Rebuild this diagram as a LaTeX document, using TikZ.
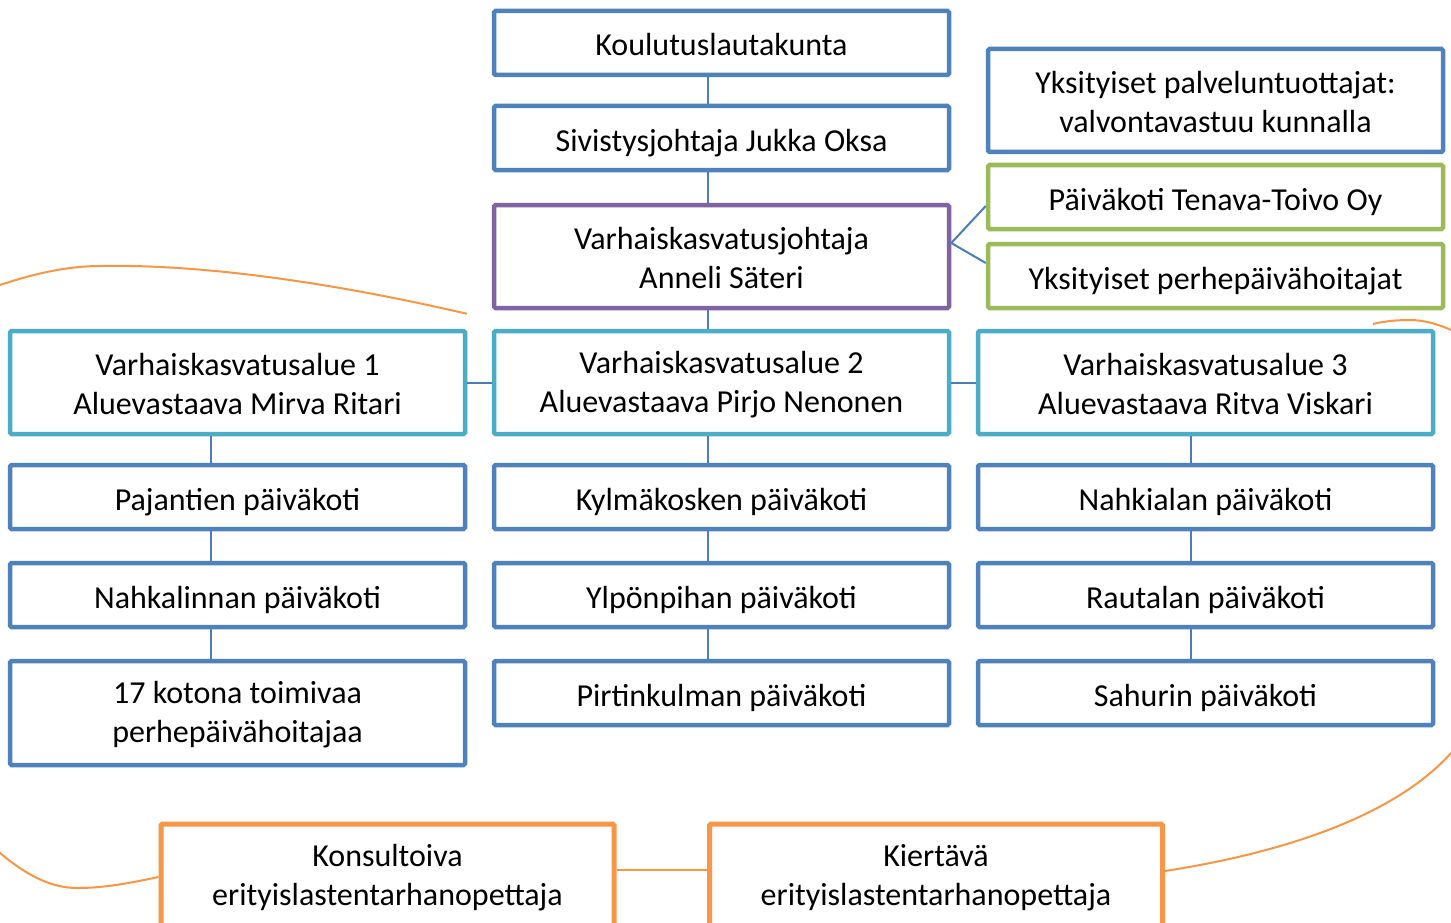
\documentclass[tikz,border=0pt]{standalone}
\usepackage{fontspec}
\setmainfont{Carlito}
\definecolor{boxblue}{HTML}{4F81BD}
\definecolor{lineblue}{HTML}{4A7EBB}
\definecolor{boxpurple}{HTML}{8064A2}
\definecolor{boxgreen}{HTML}{9BBB59}
\definecolor{boxteal}{HTML}{4BACC6}
\definecolor{boxorange}{HTML}{F79646}
\newcommand{\topst}{\rule{0pt}{26pt}}
\tikzset{
  box/.style={draw, line width=4.5pt, rounded corners=1.5pt, minimum width=455pt,
    minimum height=64pt, align=center, inner sep=0pt, text=black,
    font=\fontsize{32}{39}\selectfont},
  oneline/.style={text height=29pt, text depth=3pt},
  bluebox/.style={box, draw=boxblue, oneline},
  tallbox/.style={minimum height=103pt, text height=, text depth=},
  purplebox/.style={box, draw=boxpurple, tallbox},
  greenbox/.style={box, draw=boxgreen, oneline},
  tealbox/.style={box, draw=boxteal, tallbox},
  orangebox/.style={box, draw=boxorange, line width=5pt, tallbox, minimum width=453pt},
  conn/.style={draw=lineblue, line width=2pt},
  oconn/.style={draw=boxorange, line width=2pt},
}
\begin{document}
\begin{tikzpicture}[x=1pt,y=-1pt]
\useasboundingbox (0,0) rectangle (1451,923);
\clip (0,0) rectangle (1451,923);
\fill[white] (0,0) rectangle (1451,923);
% top chain
\node[bluebox] (k) at (721.5,43) {Koulutuslautakunta};
\node[bluebox] (s) at (721.5,138) {Sivistysjohtaja Jukka Oksa};
\node[purplebox] (v) at (721.5,256.5) {\topst Varhaiskasvatusjohtaja\\Anneli Säteri};
% private providers
\node[bluebox, tallbox] (yp) at (1215.5,100.5) {\topst Yksityiset palveluntuottajat:\\valvontavastuu kunnalla};
\node[greenbox] (pt) at (1215.5,197) {Päiväkoti Tenava-Toivo Oy};
\node[greenbox] (pp) at (1215.5,276) {Yksityiset perhepäivähoitajat};
% areas
\node[tealbox] (a1) at (237.5,382.5) {\topst Varhaiskasvatusalue 1\\Aluevastaava Mirva Ritari};
\node[tealbox] (a2) at (721.5,382.5) {\topst Varhaiskasvatusalue 2\\Aluevastaava Pirjo Nenonen};
\node[tealbox] (a3) at (1205.5,382.5) {\topst Varhaiskasvatusalue 3\\Aluevastaava Ritva Viskari};
% column 1
\node[bluebox] (c1a) at (237.5,497) {Pajantien päiväkoti};
\node[bluebox] (c1b) at (237.5,595) {Nahkalinnan päiväkoti};
\node[bluebox, tallbox, minimum height=104pt] (c1c) at (237.5,713) {\topst 17 kotona toimivaa\\perhepäivähoitajaa};
% column 2
\node[bluebox] (c2a) at (721.5,497) {Kylmäkosken päiväkoti};
\node[bluebox] (c2b) at (721.5,595) {Ylpönpihan päiväkoti};
\node[bluebox] (c2c) at (721.5,693) {Pirtinkulman päiväkoti};
% column 3
\node[bluebox] (c3a) at (1205.5,497) {Nahkialan päiväkoti};
\node[bluebox] (c3b) at (1205.5,595) {Rautalan päiväkoti};
\node[bluebox] (c3c) at (1205.5,693) {Sahurin päiväkoti};
% special teachers
\node[orangebox] (ko) at (387.5,875.5) {\topst Konsultoiva\\erityislastentarhanopettaja};
\node[orangebox] (ki) at (936,875.5) {\topst Kiertävä\\erityislastentarhanopettaja};
% connectors
\draw[conn] ([xshift=-13.5pt]k.south) -- ([xshift=-13.5pt]s.north);
\draw[conn] ([xshift=-13.5pt]s.south) -- ([xshift=-13.5pt]v.north);
\draw[conn] ([xshift=-13.5pt]v.south) -- ([xshift=-13.5pt]a2.north);
\draw[conn] ([yshift=13.5pt]v.east) -- ([yshift=-9pt]pt.west);
\draw[conn] ([yshift=13.5pt]v.east) -- ([yshift=13pt]pp.west);
\draw[conn] (a1.east) -- (a2.west);
\draw[conn] (a2.east) -- (a3.west);
\draw[conn] ([xshift=-26.5pt]a1.south) -- ([xshift=-26.5pt]c1a.north);
\draw[conn] ([xshift=-26.5pt]c1a.south) -- ([xshift=-26.5pt]c1b.north);
\draw[conn] ([xshift=-26.5pt]c1b.south) -- ([xshift=-26.5pt]c1c.north);
\draw[conn] ([xshift=-13.5pt]a2.south) -- ([xshift=-13.5pt]c2a.north);
\draw[conn] ([xshift=-13.5pt]c2a.south) -- ([xshift=-13.5pt]c2b.north);
\draw[conn] ([xshift=-13.5pt]c2b.south) -- ([xshift=-13.5pt]c2c.north);
\draw[conn] ([xshift=-14.5pt]a3.south) -- ([xshift=-14.5pt]c3a.north);
\draw[conn] ([xshift=-14.5pt]c3a.south) -- ([xshift=-14.5pt]c3b.north);
\draw[conn] ([xshift=-14.5pt]c3b.south) -- ([xshift=-14.5pt]c3c.north);
\draw[oconn] ([yshift=5.5pt]ko.east) -- ([yshift=5.5pt]ki.west);
% orange loops
\coordinate (l1) at ([xshift=-0.5pt,yshift=15pt]a1.north east);
\coordinate (l2) at ([yshift=-1.5pt]ko.west);
\draw[oconn] (l1) .. controls (330,282) and (200,264) .. (100,266)
  .. controls (65,266) and (30,275) .. (0,285)
  .. controls (-90,315) and (-120,500) .. (-110,600)
  .. controls (-100,700) and (-40,820) .. (0,853)
  .. controls (25,874) and (50,888) .. (77,888)
  .. controls (105,888) and (130,883) .. (l2);
\coordinate (r1) at (1373,324);
\coordinate (r2) at ([yshift=4.5pt]ki.east);
\draw[oconn] (r1) .. controls (1385,321) and (1398,320) .. (1410,320)
  .. controls (1425,320) and (1440,325) .. (1451,330)
  .. controls (1520,360) and (1560,500) .. (1540,600)
  .. controls (1520,690) and (1480,725) .. (1451,753)
  .. controls (1400,810) and (1300,850) .. (r2);
\end{tikzpicture}
\end{document}
